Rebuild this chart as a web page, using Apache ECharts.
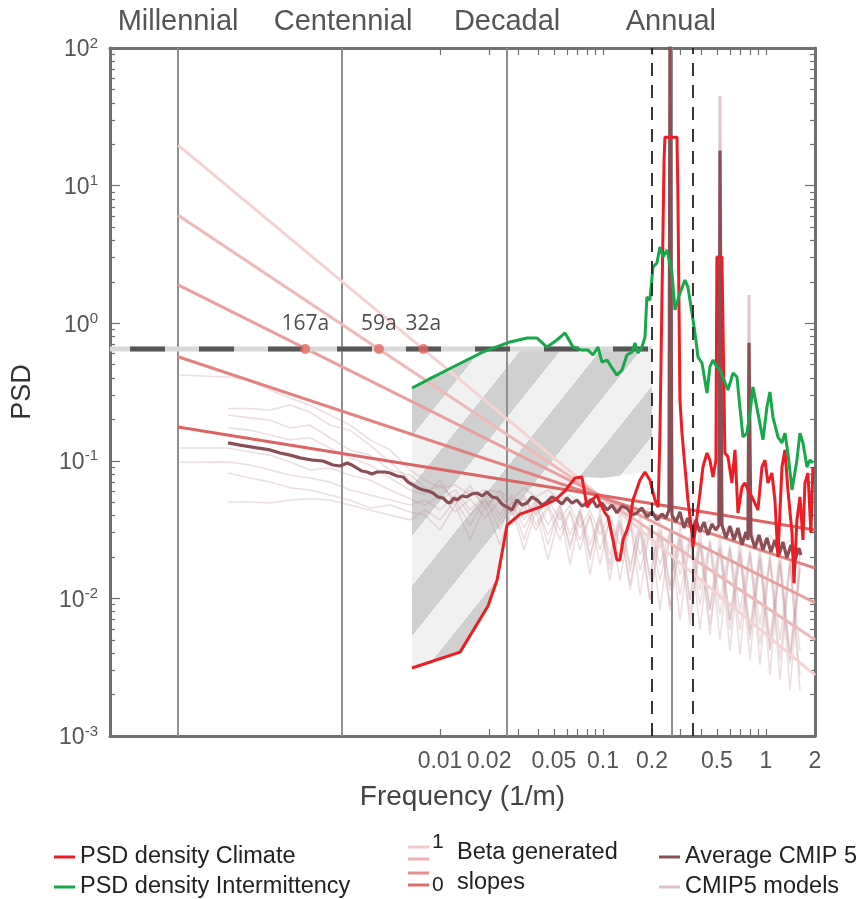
<!DOCTYPE html>
<html><head><meta charset="utf-8">
<script src="https://cdn.jsdelivr.net/npm/echarts/dist/echarts.min.js"></script>
<style>html,body{margin:0;padding:0;background:#fff}#chart{width:857px;height:899px}</style>
</head><body><div id="chart"></div>
<script>
// ---------------- data (frequency in 1/m, PSD values) ----------------
const xTickLabels = [0.01, 0.02, 0.05, 0.1, 0.2, 0.5, 1, 2];
const xMinorTicks = [0.01,0.02,0.03,0.04,0.05,0.06,0.07,0.08,0.09,0.1,0.2,0.3,0.4,0.5,0.6,0.7,0.8,0.9,1,2];
const yTickExps = [-3, -2, -1, 0, 1, 2];
const freqMin = 9.44e-5, freqMax = 2;
const bandNames = ['Millennial', 'Centennial', 'Decadal', 'Annual'];
const bandFreqs = [2.47e-4, 2.54e-3, 0.0258, 0.261];
const windowFreqs = [0.2, 0.352];

const climate = [[0.00673,0.00312],[0.01327,0.00407],[0.0197,0.00881],[0.0224,0.0136],[0.0258,0.0341],[0.031,0.041],[0.041,0.0461],[0.0508,0.0519],[0.0585,0.0604],[0.0673,0.075],[0.0743,0.0763],[0.0798,0.0461],[0.0857,0.0519],[0.0919,0.0564],[0.0959,0.0493],[0.1028,0.0418],[0.1074,0.0391],[0.1151,0.0266],[0.1218,0.019],[0.127,0.019],[0.1327,0.0266],[0.1403,0.0314],[0.1465,0.0372],[0.1528,0.0519],[0.1687,0.0725],[0.181,0.083],[0.194,0.0725],[0.2085,0.0519],[0.218,0.0461],[0.2237,0.159],[0.230,1.47],[0.237,15.3],[0.240,22.5],[0.2845,22.5],[0.2885,7.85],[0.2966,0.277],[0.3053,0.159],[0.3186,0.0901],[0.332,0.0519],[0.3516,0.0299],[0.3566,0.0236],[0.3773,0.0391],[0.3937,0.0583],[0.4105,0.0901],[0.4346,0.114],[0.4532,0.101],[0.473,0.0763],[0.4932,0.101],[0.5,3.03],[0.537,3.03],[0.56,0.114],[0.5848,0.107],[0.618,0.069],[0.6457,0.12],[0.6734,0.0418],[0.7127,0.0645],[0.743,0.069],[0.776,0.0614],[0.8206,0.0546],[0.893,0.0439],[0.945,0.0901],[0.986,0.101],[1.029,0.069],[1.088,0.0815],[1.135,0.0519],[1.185,0.02],[1.254,0.0901],[1.308,0.12],[1.364,0.0614],[1.445,0.0299],[1.486,0.0129],[1.549,0.0372],[1.617,0.0546],[1.687,0.0266],[1.735,0.069],[1.81,0.0815],[1.888,0.0299],[1.942,0.0901]];

const intermittency = [[0.00673,0.338],[0.00906,0.406],[0.0127,0.497],[0.0184,0.618],[0.0269,0.731],[0.0342,0.78],[0.0394,0.78],[0.0453,0.671],[0.0522,0.755],[0.0585,0.849],[0.0655,0.671],[0.0743,0.638],[0.0809,0.638],[0.0869,0.587],[0.0932,0.671],[0.0986,0.522],[0.106,0.54],[0.1136,0.473],[0.1218,0.42],[0.1308,0.457],[0.1403,0.587],[0.1507,0.618],[0.157,0.718],[0.164,0.607],[0.1734,0.671],[0.181,0.79],[0.186,1.55],[0.194,1.47],[0.2027,2.56],[0.2143,2.74],[0.2237,3.58],[0.2334,3.03],[0.247,3.40],[0.265,2.32],[0.2765,1.25],[0.2966,1.66],[0.3186,2.06],[0.332,1.83],[0.3516,1.19],[0.3668,0.849],[0.3828,0.568],[0.405,0.514],[0.4346,0.311],[0.4532,0.481],[0.473,0.54],[0.5,0.481],[0.5224,0.457],[0.5848,0.327],[0.628,0.435],[0.664,0.406],[0.692,0.246],[0.7227,0.149],[0.764,0.159],[0.798,0.222],[0.832,0.344],[0.893,0.222],[0.959,0.142],[1.014,0.246],[1.058,0.316],[1.104,0.208],[1.185,0.149],[1.254,0.135],[1.308,0.159],[1.364,0.114],[1.445,0.0614],[1.549,0.101],[1.617,0.159],[1.687,0.135],[1.785,0.0901],[1.862,0.101],[1.942,0.0964]];

const cmipAverage = [[5.0e-4,0.135],[5.93e-4,0.13],[7.54e-4,0.124],[9.06e-4,0.12],[1.043e-3,0.114],[1.202e-3,0.11],[1.384e-3,0.105],[1.663e-3,0.101],[1.914e-3,0.0997],[2.207e-3,0.0932],[2.438e-3,0.0917],[2.687e-3,0.0964],[2.884e-3,0.0932],[3.097e-3,0.0886],[3.321e-3,0.0843],[3.565e-3,0.0829],[3.828e-3,0.0802],[4.105e-3,0.0829],[4.6e-3,0.0829],[4.93e-3,0.0815],[5.45e-3,0.0776],[5.93e-3,0.0763],[6.37e-3,0.0701],[6.83e-3,0.0667],[7.33e-3,0.0634],[7.87e-3,0.0614],[8.44e-3,0.0604],[9.06e-3,0.0583],[9.72e-3,0.0546],[1.043e-2,0.0537],[1.104e-2,0.0502],[1.151e-2,0.0493],[1.219e-2,0.0537],[1.271e-2,0.0519],[1.364e-2,0.0555],[1.465e-2,0.0546],[1.571e-2,0.0574],[1.687e-2,0.0583],[1.811e-2,0.0555],[1.942e-2,0.0593],[2.084e-2,0.0546],[2.238e-2,0.0537],[2.40e-2,0.0485],[2.576e-2,0.0461],[2.767e-2,0.0439],[2.966e-2,0.0519],[3.184e-2,0.0477],[3.42e-2,0.0493],[3.66e-2,0.0546],[3.94e-2,0.0519],[4.23e-2,0.0477],[4.53e-2,0.0502],[4.86e-2,0.0546],[5.22e-2,0.0519],[5.60e-2,0.0485],[6.01e-2,0.0537],[6.45e-2,0.0493],[6.92e-2,0.0519],[7.43e-2,0.0469],[7.98e-2,0.0493],[8.57e-2,0.0528],[9.19e-2,0.0461],[9.86e-2,0.0493],[0.1059,0.0439],[0.1136,0.0477],[0.1218,0.0418],[0.1308,0.0469],[0.1403,0.0454],[0.1507,0.0404],[0.1617,0.0418],[0.1734,0.0454],[0.1862,0.0391],[0.200,0.0425],[0.2143,0.0372],[0.230,0.0411],[0.2436,0.0384],[0.254,0.0439],[0.2576,150],[0.2651,0.0404],[0.2805,0.0359],[0.2966,0.0425],[0.314,0.0325],[0.332,0.0384],[0.3516,0.0314],[0.3722,0.0372],[0.3937,0.0304],[0.4168,0.0359],[0.4406,0.0289],[0.4664,0.0347],[0.4932,0.0314],[0.515,0.0341],[0.5224,18],[0.537,0.0341],[0.5685,0.0275],[0.6013,0.0335],[0.6365,0.0266],[0.6734,0.0325],[0.7127,0.0245],[0.7537,0.0304],[0.776,0.0266],[0.787,0.72],[0.809,0.0289],[0.857,0.0232],[0.906,0.0289],[0.959,0.0225],[1.014,0.0275],[1.073,0.0217],[1.135,0.0266],[1.202,0.0207],[1.271,0.0257],[1.345,0.0197],[1.424,0.0245],[1.506,0.019],[1.594,0.0232],[1.64,0.0207]];

const modelFreqs = [2.54e-4,5.0e-4,6.83e-4,9.06e-4,1.2e-3,1.59e-3,2.11e-3,2.8e-3,3.72e-3,4.93e-3,6.55e-3,8.09e-3,0.01,0.0124,0.0153,0.0189,0.0233,0.0277,0.0328,0.0388,0.046,0.0545,0.0628,0.0723,0.0832,0.0959,0.110,0.127,0.147,0.169,0.194,0.224,0.258,0.297,0.342,0.394,0.453,0.522,0.601,0.692,0.798,0.919,1.058,1.218,1.404,1.617];
const model1 = [0.42,0.406,0.386,0.327,0.286,0.254,0.215,0.182,0.142,0.12,0.0857,0.0725,0.0637,0.0667,0.0564,0.0614,0.0593,0.0519,0.0637,0.0546,0.0614,0.0519,0.0564,0.0477,0.053,0.0439,0.0519,0.0425,0.0477,0.0404,0.0454,0.0372,0.0425,0.0341,0.0404,0.0314,0.0372,0.0289,0.0341,0.0266,0.0314,0.0245,0.0289,0.0225,0.0266,0.0207];
const model2 = [null,0.24,0.24,0.234,0.254,0.226,0.182,0.167,0.13,0.098,0.0725,0.0593,0.0667,0.0519,0.0614,0.0477,0.0564,0.0439,0.053,0.0404,0.0519,0.0372,0.0477,0.0325,0.0439,0.0289,0.0404,0.0245,0.0372,0.0207,0.0341,0.0175,0.0314,0.0148,0.0289,0.0115,0.0266,0.00973,0.0245,0.00823,0.0225,0.0064,0.0207,0.005,0.019,0.0042];
const model3 = [null,0.215,0.205,0.198,0.173,0.182,0.147,0.12,0.11,0.0857,0.0789,0.0637,0.0519,0.0614,0.0439,0.0564,0.0404,0.0564,0.0372,0.0519,0.0341,0.0477,0.0289,0.0439,0.0245,0.0404,0.0207,0.0372,0.0175,0.0341,0.0148,0.0314,0.0125,0.0289,0.00973,0.0266,0.00823,0.0245,0.00696,0.0225,0.00545,0.0207,0.0042,0.019,0.00331,0.0175];
const model4 = [null,0.173,0.167,0.154,0.142,0.147,0.124,0.105,0.0932,0.075,0.0614,0.0564,0.0725,0.0477,0.0667,0.0439,0.0614,0.0404,0.0564,0.0341,0.0477,0.0314,0.0439,0.0266,0.0404,0.0225,0.0372,0.019,0.0341,0.0161,0.0314,0.0136,0.0289,0.0106,0.0266,0.0089,0.0245,0.0076,0.0225,0.0059,0.0207,0.0046,0.019,0.00357,0.0175,0.00277];
const model5 = [0.124,0.124,0.116,0.11,0.098,0.0857,0.0886,0.0789,0.0725,0.0614,0.053,0.0477,0.0564,0.0425,0.053,0.0384,0.0519,0.0341,0.0477,0.0314,0.0454,0.0266,0.0425,0.0225,0.0404,0.0175,0.0384,0.0136,0.0359,0.0106,0.0325,0.00823,0.0304,0.00696,0.0275,0.0059,0.0257,0.005,0.0232,0.0039,0.0217,0.00329,0.0197,0.00256,0.0184,0.00216];
const model6 = [0.0977,0.098,0.0932,0.0857,0.0789,0.075,0.0701,0.0614,0.0564,0.0519,0.0477,0.0519,0.0439,0.0564,0.0404,0.0519,0.0372,0.0502,0.0325,0.0477,0.0289,0.0439,0.0245,0.0425,0.0207,0.0384,0.0161,0.0359,0.0125,0.0325,0.00973,0.0304,0.00823,0.0275,0.0064,0.0257,0.00542,0.0232,0.0042,0.0217,0.00357,0.0197,0.00277,0.0184,0.00216,0.0167];
const model7 = [null,0.0815,0.075,0.0701,0.0637,0.0614,0.0564,0.0519,0.0454,0.0477,0.0425,0.0404,0.0314,0.0477,0.0266,0.0477,0.0245,0.0454,0.0225,0.0439,0.019,0.0425,0.0175,0.0404,0.0148,0.0372,0.0136,0.0341,0.0115,0.0314,0.00973,0.0289,0.0089,0.0266,0.0076,0.0245,0.0064,0.0225,0.0059,0.0207,0.005,0.019,0.0042,0.0175,0.00357,0.0161];
const model8 = [null,0.0502,0.0502,0.0493,0.0519,0.053,0.0519,0.0477,0.0439,0.0404,0.0372,0.0439,0.0372,0.0519,0.0341,0.053,0.0314,0.0519,0.0266,0.0502,0.0245,0.0477,0.0225,0.0454,0.019,0.0439,0.0175,0.0425,0.0155,0.0404,0.0136,0.0372,0.0115,0.0341,0.00973,0.0314,0.00823,0.0289,0.00696,0.0266,0.0059,0.0245,0.005,0.0225,0.0039,0.0207];
const modelPeak1 = [[0.51,0.035],[0.5224,45],[0.535,0.035]];
const modelPeak2 = [[0.777,0.03],[0.787,1.6],[0.797,0.03]];

const betaSlopes = [1, 0.8, 0.6, 0.4, 0.2];
const betaFreqs = [2.47e-4, 2];
const betaStart = [19.7, 6.1, 1.9, 0.57, 0.176];
const betaEnd = [0.00277, 0.005, 0.0093, 0.0166, 0.0314];

const refLevel = 0.65;
const refFreqs = [freqMin, 0.2];
const crossFreqs = [1.49e-3, 4.22e-3, 7.9e-3];
const crossLabels = ['167a', '59a', '32a'];

const hatchUpper = [[0.00673,0.338],[0.00906,0.406],[0.0127,0.497],[0.0184,0.618],[0.0198,0.65],[0.2,0.65]];
const hatchLower = [[0.00673,0.00312],[0.01327,0.00407],[0.0197,0.00881],[0.0224,0.0136],[0.0258,0.0341],[0.031,0.041],[0.041,0.0461],[0.0508,0.0519],[0.0585,0.0604],[0.0673,0.075],[0.0743,0.0763],[0.1,0.075],[0.181,0.083],[0.2,0.083]];

// ---------------- styles ----------------
const FONT = 'Liberation Sans, Arial, sans-serif';
const AX = '#707070';
const betaColors = ['#f6d3d3', '#f0b9b9', '#e99f9f', '#e38282', '#dc6464'];

const lg = Math.log10;
const pts = arr => arr.filter(p => p[1] != null).map(p => [lg(p[0]), lg(p[1])]);

// diagonal stripe pattern for the hatched band
const hatchCanvas = document.createElement('canvas');
hatchCanvas.width = 80; hatchCanvas.height = 100;
(function () {
  const c = hatchCanvas.getContext('2d');
  const img = c.createImageData(80, 100);
  for (let y = 0; y < 100; y++) for (let x = 0; x < 80; x++) {
    const k = ((1.25 * x + y) % 100 + 100) % 100;
    const v = k < 50 ? 208 : 241;
    const i = (y * 80 + x) * 4;
    img.data[i] = img.data[i + 1] = img.data[i + 2] = v; img.data[i + 3] = 255;
  }
  c.putImageData(img, 0, 0);
})();

const nearestLabel = (v, list, names) => {
  let best = 0;
  list.forEach((t, i) => { if (Math.abs(lg(t) - v) < Math.abs(lg(list[best]) - v)) best = i; });
  return names ? names[best] : String(list[best]);
};

const xBase = {
  type: 'value', min: lg(freqMin), max: lg(freqMax),
  splitLine: { show: false },
  axisLine: { onZero: false, lineStyle: { color: AX, width: 3 } },
  axisTick: { inside: true, length: 7, customValues: xMinorTicks.map(lg), lineStyle: { color: AX, width: 1.2 } }
};
const yBase = {
  type: 'value', min: -3, max: 2, splitLine: { show: false },
  axisLine: { onZero: false, lineStyle: { color: AX, width: 3 } }
};
const yMajor = yTickExps.slice();
const yMinor = [];
for (let e = -3; e < 2; e++) for (let k = 2; k <= 9; k++) yMinor.push(lg(k) + e);

const series = [];
series.push({
  type: 'custom', name: 'band', z: 1, silent: true, clip: true,
  data: [[lg(hatchUpper[0][0]), lg(hatchUpper[0][1])]], encode: { x: 0, y: 1 },
  renderItem: (params, api) => {
    const poly = hatchUpper.map(p => api.coord([lg(p[0]), lg(p[1])]))
      .concat(hatchLower.slice().reverse().map(p => api.coord([lg(p[0]), lg(p[1])])));
    return { type: 'polygon', shape: { points: poly }, style: { fill: { image: hatchCanvas, repeat: 'repeat' }, stroke: null } };
  }
});
series.push({
  type: 'line', name: 'guides', data: [], z: 2, silent: true,
  markLine: { silent: true, z: 2, symbol: ['none', 'none'], label: { show: false }, animation: false,
    lineStyle: { color: '#8f8f8f', width: 2, type: 'solid' },
    data: bandFreqs.map(f => ({ xAxis: lg(f) })) }
});
[model1, model2, model3, model4, model5, model6, model7, model8].forEach(m => {
  series.push({
    type: 'line', name: 'CMIP5 models', z: 3, showSymbol: false, silent: true,
    data: pts(modelFreqs.map((f, i) => [f, m[i]])),
    itemStyle: { color: '#dcc4c7' },
    lineStyle: { color: 'rgba(196,148,155,0.3)', width: 1.6 }
  });
});
[modelPeak1, modelPeak2].forEach(pk => series.push({
  type: 'line', name: 'CMIP5 models', z: 3, showSymbol: false, silent: true, data: pts(pk),
  itemStyle: { color: '#dcc4c7' }, lineStyle: { color: 'rgba(160,100,108,0.35)', width: 3 }
}));
betaSlopes.forEach((b, i) => series.push({
  type: 'line', name: 'beta ' + b, z: 4, showSymbol: false, silent: true,
  data: pts([[betaFreqs[0], betaStart[i]], [betaFreqs[1], betaEnd[i]]]),
  lineStyle: { color: betaColors[i], width: 3 }
}));
series.push({
  type: 'line', name: 'Average CMIP 5', z: 5, showSymbol: false, data: pts(cmipAverage),
  itemStyle: { color: '#8c4e55' }, lineStyle: { color: '#8c4e55', width: 3.2 }
});
series.push({
  type: 'line', name: 'ref light', z: 6, showSymbol: false, silent: true,
  data: pts(refFreqs.map(f => [f, refLevel])), lineStyle: { color: '#d9d9d9', width: 5 }
});
series.push({
  type: 'line', name: 'ref dash', z: 6, showSymbol: false, silent: true,
  data: pts(refFreqs.map(f => [f, refLevel])), lineStyle: { color: '#565656', width: 5, type: [35, 34], dashOffset: 49 }
});
series.push({
  type: 'line', name: 'PSD density Climate', z: 7, showSymbol: false, data: pts(climate),
  itemStyle: { color: '#ee1c25' }, lineStyle: { color: '#ee1c25', width: 3 }
});
series.push({
  type: 'line', name: 'PSD density Intermittency', z: 8, showSymbol: false, data: pts(intermittency),
  itemStyle: { color: '#17a84b' }, lineStyle: { color: '#17a84b', width: 3 }
});
series.push({
  type: 'line', name: 'windows', data: [], z: 12, silent: true,
  markLine: { silent: true, z: 12, symbol: ['none', 'none'], label: { show: false }, animation: false,
    lineStyle: { color: '#222', width: 1.8, type: [13, 9] },
    data: windowFreqs.map(f => ({ xAxis: lg(f) })) }
});
series.push({
  type: 'scatter', name: 'crossings', z: 15, symbolSize: 10, silent: true,
  data: crossFreqs.map((f, i) => [lg(f), lg(refLevel), crossLabels[i]]),
  itemStyle: { color: '#e4675e' },
  label: { show: true, position: 'top', distance: 9, formatter: p => p.value[2], fontFamily: 'Open Sans', fontSize: 21, color: '#222' }
});

const LEG_FS = 23.5;
const legendItem = (name, left, top) => ({
  orient: 'horizontal', left: left, top: top, icon: 'rect', itemWidth: 21, itemHeight: 3,
  textStyle: { fontFamily: FONT, fontSize: LEG_FS, color: '#222' }, data: [name]
});

const option = {
  animation: false,
  backgroundColor: '#fff',
  grid: { left: 110, right: 42, top: 48, bottom: 163, containLabel: false, outerBoundsMode: 'none' },
  xAxis: [
    Object.assign({}, xBase, {
      position: 'bottom',
      axisLabel: { customValues: xTickLabels.map(lg), formatter: v => nearestLabel(v, xTickLabels), fontFamily: FONT, fontSize: 23, color: '#555', margin: 14 },
      name: 'Frequency (1/m)', nameLocation: 'middle', nameGap: 47,
      nameTextStyle: { fontFamily: FONT, fontSize: 28, color: '#444' }
    }),
    Object.assign({}, xBase, {
      position: 'top',
      axisLabel: { customValues: bandFreqs.map(lg), formatter: v => nearestLabel(v, bandFreqs, bandNames), fontFamily: FONT, fontSize: 29, color: '#555', margin: 12 }
    })
  ],
  yAxis: [
    Object.assign({}, yBase, {
      position: 'left',
      axisTick: { inside: true, length: 10, customValues: yMajor, lineStyle: { color: AX, width: 1.2 } },
      axisLabel: { customValues: yMajor, margin: 12, color: '#555', fontFamily: FONT,
        formatter: v => '{b|10}{s|' + Math.round(v) + '}',
        rich: { b: { fontSize: 23, lineHeight: 24, padding: [4, 0, 0, 0], fontFamily: FONT, color: '#555' },
                s: { fontSize: 15, lineHeight: 15, verticalAlign: 'top', fontFamily: FONT, color: '#555' } } },
      name: 'PSD', nameLocation: 'middle', nameGap: 74, nameRotate: 90,
      nameTextStyle: { fontFamily: FONT, fontSize: 27, color: '#333' }
    }),
    Object.assign({}, yBase, { position: 'left', axisLine: { show: false, onZero: false }, axisLabel: { show: false },
      axisTick: { inside: true, length: 5, customValues: yMinor, lineStyle: { color: AX, width: 1.2 } } }),
    Object.assign({}, yBase, { position: 'right', axisLabel: { show: false },
      axisTick: { inside: true, length: 10, customValues: yMajor, lineStyle: { color: AX, width: 1.2 } } }),
    Object.assign({}, yBase, { position: 'right', axisLine: { show: false, onZero: false }, axisLabel: { show: false },
      axisTick: { inside: true, length: 5, customValues: yMinor, lineStyle: { color: AX, width: 1.2 } } })
  ],
  legend: [
    legendItem('PSD density Climate', 49, 840),
    legendItem('PSD density Intermittency', 49, 870),
    legendItem('Average CMIP 5', 654, 840),
    legendItem('CMIP5 models', 654, 870)
  ],
  graphic: [
    { type: 'line', shape: { x1: 408, y1: 847, x2: 429, y2: 847 }, style: { stroke: '#f4caca', lineWidth: 3 } },
    { type: 'line', shape: { x1: 408, y1: 859, x2: 429, y2: 859 }, style: { stroke: '#eeb0b0', lineWidth: 3 } },
    { type: 'line', shape: { x1: 408, y1: 873, x2: 429, y2: 873 }, style: { stroke: '#e58f8f', lineWidth: 3 } },
    { type: 'line', shape: { x1: 408, y1: 885, x2: 429, y2: 885 }, style: { stroke: '#dd6d6d', lineWidth: 3 } },
    { type: 'text', left: 432, top: 832, style: { text: '1', font: '21px ' + FONT, fill: '#222' } },
    { type: 'text', left: 432, top: 875, style: { text: '0', font: '21px ' + FONT, fill: '#222' } },
    { type: 'text', left: 457, top: 841, style: { text: 'Beta generated', font: LEG_FS + 'px ' + FONT, fill: '#222' } },
    { type: 'text', left: 457, top: 871, style: { text: 'slopes', font: LEG_FS + 'px ' + FONT, fill: '#222' } }
  ],
  series: series
};
const chart = echarts.init(document.getElementById('chart'), null, { renderer: 'canvas' });
chart.setOption(option);
</script></body></html>
